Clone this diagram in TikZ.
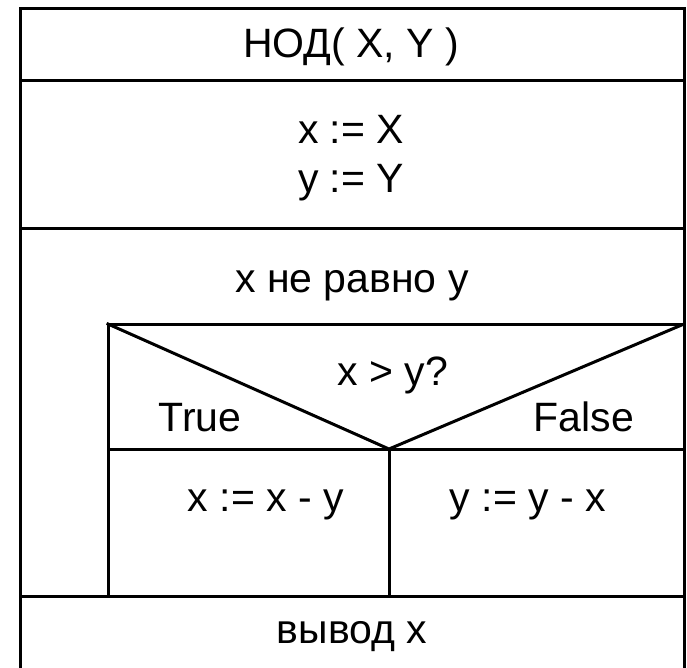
\documentclass[tikz,border=0pt]{standalone}
\usepackage{fontspec}
\setmainfont{Liberation Sans}
\begin{document}
\begin{tikzpicture}[x=1pt,y=-1pt,
  ln/.style={line width=3pt,line cap=rect},
  txt/.style={anchor=base,inner sep=0pt,font=\fontsize{41}{48}\selectfont}]
\useasboundingbox (0,0) rectangle (687,667);
% outer frame
\draw[ln] (20,680) -- (20,8) -- (684,8) -- (684,680);
\draw[ln] (20,80) -- (684,80);
\draw[ln] (20,228) -- (684,228);
% inner loop body
\draw[ln] (108,596) -- (108,324) -- (684,324);
\draw[ln] (108,324) -- (389,449) -- (684,324);
\draw[ln] (108,449) -- (684,449);
\draw[ln] (389,449) -- (389,596);
\draw[ln] (20,596) -- (684,596);
% texts
\node[txt] (title) at (351,57) {НОД( X, Y )};
\node[txt] (ax) at (351,143) {x := X};
\node[txt] (ay) at (351,192) {y := Y};
\node[txt] (loop) at (352,292) {x не равно y};
\node[txt] (cond) at (393,385) {x > y?};
\node[txt] (tr) at (200,431) {True};
\node[txt] (fa) at (584,431) {False};
\node[txt] (sx) at (266,511) {x := x - y};
\node[txt] (sy) at (528,511) {y := y - x};
\node[txt] (out) at (352,643) {вывод x};
\end{tikzpicture}
\end{document}
